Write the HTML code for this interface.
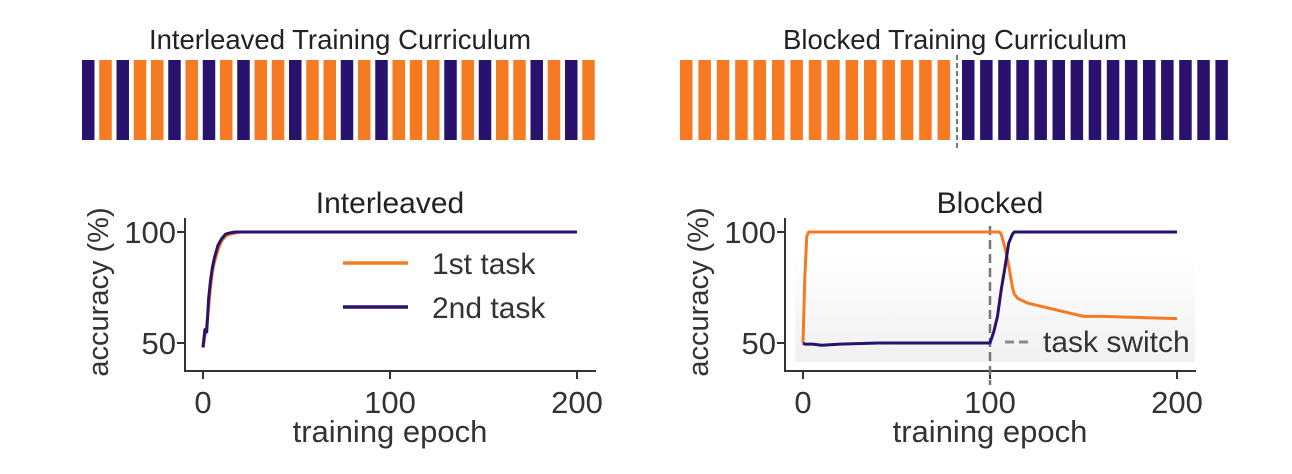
<!DOCTYPE html>
<html><head><meta charset="utf-8"><style>
body{margin:0;background:#fff;}
svg{display:block;font-family:"Liberation Sans",sans-serif;}
</style></head><body>
<svg id="fig" width="1292" height="474" viewBox="0 0 1292 474">
<defs><linearGradient id="bg" x1="0" y1="0" x2="0" y2="1"><stop offset="0" stop-color="#fff"/><stop offset="1" stop-color="#f1f1f1"/></linearGradient></defs>
<text x="340" y="49" font-size="27.5" text-anchor="middle" fill="#222">Interleaved Training Curriculum</text>
<text x="955" y="49" font-size="27.5" text-anchor="middle" fill="#222">Blocked Training Curriculum</text>
<g id="ibars"></g>
<g id="bbars"></g>
<line x1="957" y1="55" x2="957" y2="150" stroke="#777" stroke-width="2" stroke-dasharray="5,3"/>
<rect x="795" y="252" width="400" height="110" fill="url(#bg)"/>
<g id="c1"></g>
<g id="c2"></g>
</svg>
<script>
const interleavedSeq=["B","O","B","O","O","B","O","B","O","B","O","O","B","O","O","B","O","B","O","O","O","B","O","B","O","O","B","O","B","O"];
const blockedSeq=["O","O","O","O","O","O","O","O","O","O","O","O","O","O","O","B","B","B","B","B","B","B","B","B","B","B","B","B","B","B"];
const epochs=[0,1,2,3,4,5,6,8,10,12,14,17,20,30,50,100,150,200];
const inter1=[48,53,58,66,75,82,86,92,96,98,99,99.5,100,100,100,100,100,100];
const inter2=[48,56,55,70,78,84,88,94,97,99,99.5,100,100,100,100,100,100,100];
const bEpochs=[0,1,2,3,5,10,20,40,60,80,100,102,104,105,106,108,110,112,113,115,120,130,140,150,160,180,200];
const block1=[50,80,98,100,100,100,100,100,100,100,100,100,100,100,99,93,85,75,72,70,68,66,64,62,62,61.5,61];
const block2=[50,49.5,49.5,49.5,49.5,49,49.5,50,50,50,50,55,62,68,74,84,95,99,100,100,100,100,100,100,100,100,100];
const xTicks=[0,100,200], yTicks=[50,100];
const ORANGE="#f57a22", BLUE="#28126e";
const NS="http://www.w3.org/2000/svg";
function el(tag,attrs,parent){const e=document.createElementNS(NS,tag);for(const k in attrs)e.setAttribute(k,attrs[k]);parent.appendChild(e);return e;}

const ib=document.getElementById('ibars');
interleavedSeq.forEach((s,i)=>{
  const r=el('rect',{x:82+i*17.25,y:60,width:12.5,height:80,fill:s==="O"?ORANGE:BLUE},ib);
  
  
});
const bb=document.getElementById('bbars');
blockedSeq.forEach((s,i)=>{
  const x=i<15?680+i*18.4:962+(i-15)*18.1;
  const r=el('rect',{x:x,y:60,width:12.5,height:80,fill:s==="O"?ORANGE:BLUE},bb);
  
  
});

function chart(g,ox,title){
  const sx=v=>ox+203+v*1.87, sy=v=>343-(v-50)*2.22;
  const ax=ox+185;
  const a=el('path',{d:`M${ax} 218 V371 H${ox+596}`,fill:'none',stroke:'#333','stroke-width':2},g);
  
  
  xTicks.forEach(t=>{
    const l=el('line',{x1:sx(t),x2:sx(t),y1:371,y2:379,stroke:'#333','stroke-width':2},g);
    
    
    const tx=el('text',{x:sx(t),y:413,'font-size':31,'text-anchor':'middle',fill:'#333'},g);tx.textContent=t;
    
    
  });
  yTicks.forEach(t=>{
    const l=el('line',{x1:ax-8,x2:ax,y1:sy(t),y2:sy(t),stroke:'#333','stroke-width':2},g);
    
    
    const tx=el('text',{x:ax-9,y:sy(t)+11,'font-size':31,'text-anchor':'end',fill:'#333'},g);tx.textContent=t;
    
    
  });
  const tt=el('text',{x:ox+390,y:213,'font-size':30,'text-anchor':'middle',fill:'#222'},g);tt.textContent=title;
  
  
  const xl=el('text',{x:ox+390,y:442,'font-size':31,'text-anchor':'middle',fill:'#333'},g);xl.textContent='training epoch';
  
  
  const yl=el('text',{x:0,y:0,'font-size':29,'text-anchor':'middle',fill:'#333',transform:`translate(${ox+108},292) rotate(-90)`},g);yl.textContent='accuracy (%)';
  
  
  return {sx,sy};
}
function line(g,xs,ys,sx,sy,color,name){
  const p=el('polyline',{points:xs.map((x,i)=>sx(x)+','+sy(ys[i])).join(' '),fill:'none',stroke:color,'stroke-width':3,'stroke-linejoin':'round'},g);
  
  
}
const g1=document.getElementById('c1');
const s1=chart(g1,0,'Interleaved');
line(g1,epochs,inter1,s1.sx,s1.sy,ORANGE,'series-1st-task');
line(g1,epochs,inter2,s1.sx,s1.sy,BLUE,'series-2nd-task');
[['1st task',ORANGE,263],['2nd task',BLUE,307]].forEach(([t,c,y])=>{
  const l=el('line',{x1:343,x2:408,y1:y,y2:y,stroke:c,'stroke-width':3.5},g1);
  
  
  const tx=el('text',{x:432,y:y+11,'font-size':30,fill:'#333'},g1);tx.textContent=t;
  
  
});
const g2=document.getElementById('c2');
const s2=chart(g2,600,'Blocked');
const d=el('line',{x1:s2.sx(100),x2:s2.sx(100),y1:226,y2:385,stroke:'#777','stroke-width':2.5,'stroke-dasharray':'9,5'},g2);


line(g2,bEpochs,block1,s2.sx,s2.sy,ORANGE,'series-1st-task');
line(g2,bEpochs,block2,s2.sx,s2.sy,BLUE,'series-2nd-task');
const ld=el('line',{x1:1005,x2:1032,y1:342,y2:342,stroke:'#888','stroke-width':3,'stroke-dasharray':'9,5'},g2);


const lt=el('text',{x:1043,y:352,'font-size':30,fill:'#333'},g2);lt.textContent='task switch';


</script>
</body></html>
